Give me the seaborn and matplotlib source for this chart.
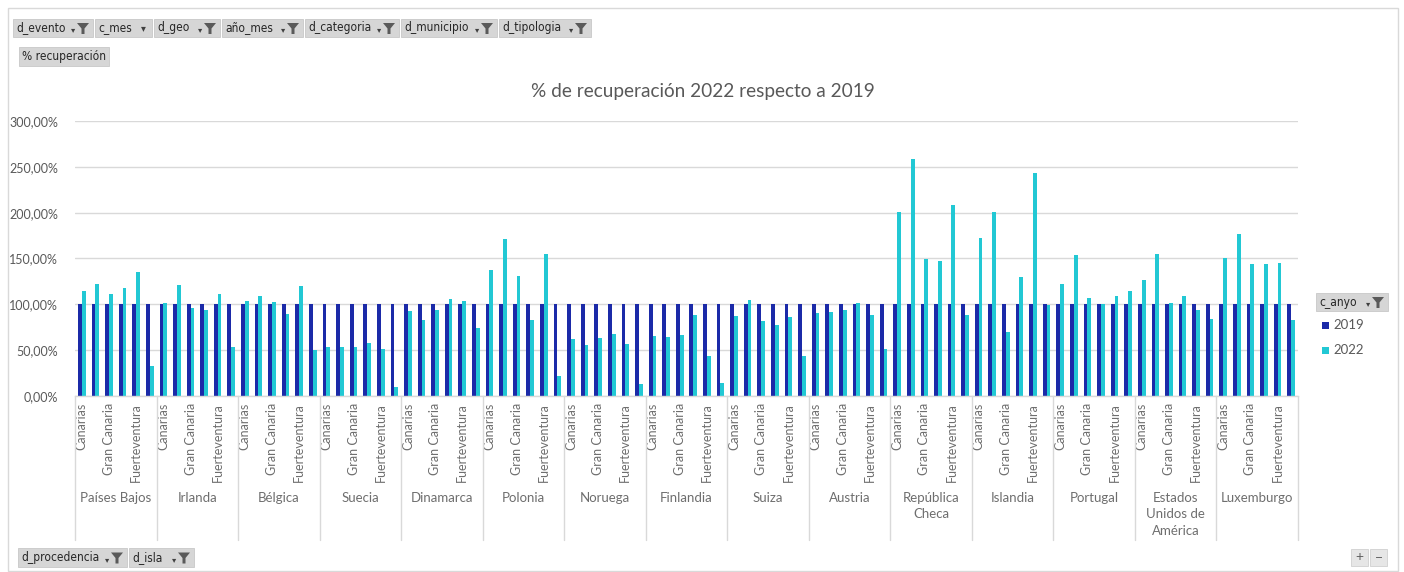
import matplotlib
matplotlib.use("Agg")
import matplotlib.pyplot as plt
from matplotlib.patches import Rectangle, Polygon
import numpy as np
import pandas as pd
import seaborn as sns

# ---------------- data ----------------
countries = ["Países Bajos", "Irlanda", "Bélgica", "Suecia", "Dinamarca", "Polonia",
             "Noruega", "Finlandia", "Suiza", "Austria", "República\nCheca",
             "Islandia", "Portugal", "Estados\nUnidos de\nAmérica", "Luxemburgo"]
islands = ["Canarias", "Lanzarote", "Gran Canaria", "Tenerife", "Fuerteventura", "La Palma"]
years = ["2019", "2022"]

rec_2019 = [
    [100, 100, 100, 100, 100, 100], [100, 100, 100, 100, 100, 100],
    [100, 100, 100, 100, 100, 100], [100, 100, 100, 100, 100, 100],
    [100, 100, 100, 100, 100, 100], [100, 100, 100, 100, 100, 100],
    [100, 100, 100, 100, 100, 100], [100, 100, 100, 100, 100, 100],
    [100, 100, 100, 100, 100, 100], [100, 100, 100, 100, 100, 100],
    [100, 100, 100, 100, 100, 100], [100, 100, 100, 100, 100, 100],
    [100, 100, 100, 100, 100, 100], [100, 100, 100, 100, 100, 100],
    [100, 100, 100, 100, 100, 100],
]
rec_2022 = [
    [115.0, 122.7, 111.4, 118.0, 135.0, 32.4],   # Países Bajos
    [102.0, 120.9, 96.5, 93.6, 111.4, 53.1],     # Irlanda
    [103.4, 108.8, 102.7, 89.6, 120.5, 49.9],    # Bélgica
    [53.1, 53.1, 53.1, 57.9, 51.0, 9.5],         # Suecia
    [92.5, 83.4, 93.6, 106.3, 103.4, 73.9],      # Dinamarca
    [137.2, 171.1, 131.4, 83.4, 155.1, 21.8],    # Polonia
    [61.9, 55.3, 63.0, 67.3, 57.2, 13.1],        # Noruega
    [65.5, 64.8, 66.3, 88.8, 43.3, 14.6],        # Finlandia
    [87.0, 104.8, 81.5, 77.2, 86.6, 43.3],       # Suiza
    [91.0, 91.7, 94.3, 101.2, 88.8, 51.7],       # Austria
    [200.6, 258.5, 149.6, 147.1, 208.2, 88.8],   # República Checa
    [172.2, 200.6, 69.5, 129.6, 243.2, 99.7],    # Islandia
    [122.0, 154.3, 107.0, 100.1, 109.6, 115.0],  # Portugal
    [126.3, 155.1, 101.9, 109.6, 94.3, 84.1],    # EEUU
    [150.3, 176.6, 144.2, 144.2, 144.9, 82.6],   # Luxemburgo
]
y_ticks = [0, 50, 100, 150, 200, 250, 300]

# ---------------- frame ----------------
rows = []
slots = []
for ci, c in enumerate(countries):
    for ii, isl in enumerate(islands):
        key = f"{c}|{isl}"
        slots.append(key)
        rows.append({"slot": key, "year": "2019", "value": rec_2019[ci][ii]})
        rows.append({"slot": key, "year": "2022", "value": rec_2022[ci][ii]})
df = pd.DataFrame(rows)

C2019 = "#1B2AA8"
C2022 = "#22C8D4"
GRAY_TXT = "#595959"
GRAY_LBL = "#6E6E6E"
GRID = "#D9D9D9"

W, H = 1404, 572
sns.set_theme(style="white")
plt.rcParams["font.family"] = ["Lato", "DejaVu Sans"]

fig = plt.figure(figsize=(W / 100, H / 100), dpi=100)
fig.patch.set_facecolor("white")

def fx(x):
    return x / W

def fy(y):
    return 1 - y / H

L, R, T, B = 75, 1298, 121, 396
ax = fig.add_axes([fx(L), fy(B), (R - L) / W, (B - T) / H])

sns.barplot(data=df, x="slot", y="value", hue="year", order=slots, hue_order=years,
            palette={"2019": C2019, "2022": C2022}, width=0.56, saturation=1,
            legend=False, ax=ax, errorbar=None, linewidth=0)

ax.set_xlim(-0.5, len(slots) - 0.5)
ax.set_ylim(0, 300)
ax.set_yticks(y_ticks)
ax.set_yticklabels([f"{v:.2f}%".replace(".", ",") for v in y_ticks], color=GRAY_TXT, fontsize=9)
ax.tick_params(axis="y", length=0, pad=12)
ax.yaxis.grid(True, color=GRID, linewidth=1)
ax.set_axisbelow(True)
for s in ["left", "right", "top"]:
    ax.spines[s].set_visible(False)
ax.spines["bottom"].set_color(GRID)
ax.spines["bottom"].set_linewidth(1)
ax.set_xlabel("")
ax.set_ylabel("")

# island tick labels (every other one shown, like Excel)
tick_pos = list(range(0, len(slots), 2))
ax.set_xticks(tick_pos)
ax.set_xticklabels([slots[p].split("|")[1] for p in tick_pos], rotation=90,
                   color=GRAY_LBL, fontsize=9, va="top")
ax.tick_params(axis="x", length=0, pad=5)

# group separators and country labels
trans = matplotlib.transforms.blended_transform_factory(ax.transData, ax.transAxes)
sep_bottom = -(540 - B) / (B - T)
n_isl = len(islands)
for k in range(len(countries) + 1):
    ax.plot([k * n_isl - 0.5, k * n_isl - 0.5], [0, sep_bottom], color=GRID,
            linewidth=1, transform=trans, clip_on=False)
lab_y = -(492 - B) / (B - T)
for k, c in enumerate(countries):
    ax.text(k * n_isl + (n_isl - 1) / 2, lab_y, c, transform=trans, ha="center",
            va="top", color=GRAY_LBL, fontsize=9.5, linespacing=1.45)

# title
fig.text(fx(703), fy(92), "% de recuperación 2022 respecto a 2019", ha="center",
         va="center", fontsize=13.7, color=GRAY_TXT)

# outer border
fig.patches.append(Rectangle((fx(8), fy(571)), fx(1398) - fx(8), fy(8) - fy(571),
                             transform=fig.transFigure, fill=False, edgecolor="#D9D9D9",
                             linewidth=1))

def funnel(x, y):
    pts = [(x - 6, y - 5), (x + 6, y - 5), (x + 1.5, y + 0.5), (x + 1.5, y + 6),
           (x - 1.5, y + 6), (x - 1.5, y + 0.5)]
    fig.patches.append(Polygon([(fx(a), fy(b)) for a, b in pts], closed=True,
                               transform=fig.transFigure, facecolor="#5A5A5A",
                               edgecolor="none"))

def button(label, x0, x1, y0, y1, filt=True, arrow=True):
    fig.patches.append(Rectangle((fx(x0), fy(y1)), fx(x1) - fx(x0), fy(y0) - fy(y1),
                                 transform=fig.transFigure, facecolor="#D6D6D6",
                                 edgecolor="#C8C8C8", linewidth=0.6))
    fig.text(fx(x0 + 3), fy((y0 + y1) / 2), label, ha="left", va="center",
             fontsize=8.6, color="#262626", family=["DejaVu Sans"], stretch="condensed")
    if filt:
        funnel(x1 - 10, (y0 + y1) / 2)
        fig.text(fx(x1 - 20), fy((y0 + y1) / 2 + 2), "▾", ha="center", va="center",
                 fontsize=6, color="#404040", family=["DejaVu Sans"])
    elif arrow:
        fig.text(fx(x1 - 9), fy((y0 + y1) / 2), "▾", ha="center", va="center",
                 fontsize=7, color="#404040", family=["DejaVu Sans"])

top_buttons = [("d_evento", 13, 93, True), ("c_mes", 95, 152, False),
               ("d_geo", 154, 220, True), ("año_mes", 222, 303, True),
               ("d_categoria", 305, 399, True), ("d_municipio", 401, 497, True),
               ("d_tipologia", 499, 591, True)]
for lab, a, b, f in top_buttons:
    button(lab, a, b, 19, 37, filt=f)
button("% recuperación", 19, 109, 47, 66, filt=False, arrow=False)
button("d_procedencia", 18, 127, 548, 567, filt=True)
button("d_isla", 129, 194, 548, 567, filt=True)
button("c_anyo", 1316, 1388, 293, 311, filt=True)

# plus / minus buttons
for lab, a, b in [("+", 1351, 1368), ("−", 1370, 1387)]:
    fig.patches.append(Rectangle((fx(a), fy(566)), fx(b) - fx(a), fy(549) - fy(566),
                                 transform=fig.transFigure, facecolor="#E6E6E6",
                                 edgecolor="#D0D0D0", linewidth=0.6))
    fig.text(fx((a + b) / 2), fy(557.5), lab, ha="center", va="center", fontsize=10,
             color="#606060")

# legend
for yr, col, yy in [("2019", C2019, 325), ("2022", C2022, 350)]:
    fig.patches.append(Rectangle((fx(1322), fy(yy + 3.5)), 7 / W, 7 / H,
                                 transform=fig.transFigure, facecolor=col, edgecolor="none"))
    fig.text(fx(1333), fy(yy), yr, ha="left", va="center", fontsize=9.5, color=GRAY_TXT)

fig.savefig("out.png", dpi=100, facecolor="white")
